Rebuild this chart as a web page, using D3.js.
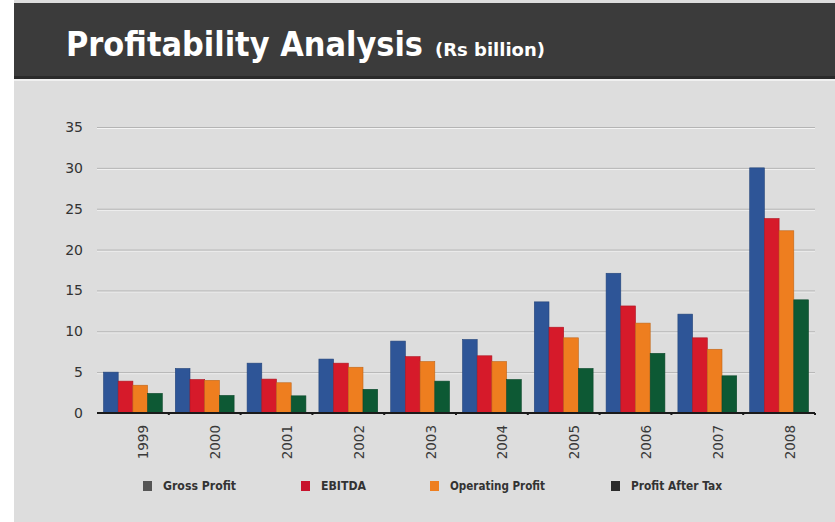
<!DOCTYPE html>
<html>
<head>
<meta charset="utf-8">
<script src="https://cdn.jsdelivr.net/npm/d3@7/dist/d3.min.js"></script>
<style>
  html, body { margin: 0; padding: 0; background: #ffffff; }
  svg { display: block; }
</style>
</head>
<body>
<svg id="chart" width="835" height="522"></svg>
<script>
// Fiscal years on the category axis
const years = ["1999", "2000", "2001", "2002", "2003", "2004", "2005", "2006", "2007", "2008"];

// Series names and values (Rs billion)
const seriesNames = ["Gross Profit", "EBITDA", "Operating Profit", "Profit After Tax"];
const grossProfit     = [5.0, 5.45, 6.1, 6.6, 8.8, 9.0, 13.6, 17.1, 12.1, 30.0];
const ebitda          = [3.9, 4.1, 4.15, 6.1, 6.9, 7.0, 10.5, 13.1, 9.2, 23.8];
const operatingProfit = [3.4, 4.0, 3.7, 5.6, 6.3, 6.3, 9.2, 11.0, 7.8, 22.3];
const profitAfterTax  = [2.4, 2.15, 2.1, 2.9, 3.9, 4.1, 5.45, 7.3, 4.55, 13.85];

const yTicks = [0, 5, 10, 15, 20, 25, 30, 35];

const seriesValues = [grossProfit, ebitda, operatingProfit, profitAfterTax];
const barColors = ["#2e5597", "#d61a2a", "#ee7e1f", "#0d5934"];
const legendColors = ["#555555", "#c8122c", "#ee7e1f", "#2a2a2a"];

const svg = d3.select("#chart");
const W = 835, H = 522;

// Page panels: light grey body and dark title band
svg.append("rect").attr("x", 14).attr("y", 0).attr("width", W - 14).attr("height", H).attr("fill", "#dddddd");
svg.append("rect").attr("x", 14).attr("y", 3).attr("width", W - 14).attr("height", 76).attr("fill", "#3b3b3b");
svg.append("rect").attr("x", 14).attr("y", 76).attr("width", W - 14).attr("height", 3).attr("fill", "#2a2a2a");
svg.append("rect").attr("x", 14).attr("y", 79).attr("width", W - 14).attr("height", 2).attr("fill", "#f0f0f0");

// Title and unit
const titleFont = "'Liberation Sans Narrow', 'DejaVu Sans Condensed', 'Liberation Sans', sans-serif";
svg.append("text")
  .attr("x", 66).attr("y", 56)
  .attr("fill", "#ffffff")
  .attr("font-family", titleFont)
  .attr("font-weight", "bold")
  .attr("font-size", 33.5)
  .attr("textLength", 357)
  .attr("lengthAdjust", "spacingAndGlyphs")
  .text("Profitability Analysis");
svg.append("text")
  .attr("x", 435).attr("y", 56)
  .attr("fill", "#ffffff")
  .attr("font-family", titleFont)
  .attr("font-weight", "bold")
  .attr("font-size", 18.5)
  .attr("textLength", 110)
  .attr("lengthAdjust", "spacingAndGlyphs")
  .text("(Rs billion)");

// Scales
const plotLeft = 97, plotRight = 815, plotTop = 127, plotBottom = 413;
const y = d3.scaleLinear().domain([0, 35]).range([plotBottom, plotTop]);
const x0 = d3.scaleBand().domain(years).range([plotLeft, plotRight]).padding(0);
const x1 = d3.scaleBand().domain(seriesNames).range([6.5, x0.bandwidth() - 6.5]).padding(0);

// Gridlines with a light highlight underneath
const grid = svg.append("g");
yTicks.filter(t => t > 0).forEach(t => {
  grid.append("line")
    .attr("x1", plotLeft).attr("x2", plotRight)
    .attr("y1", y(t) + 1.5).attr("y2", y(t) + 1.5)
    .attr("stroke", "#f4f4f4").attr("stroke-width", 1);
  grid.append("line")
    .attr("x1", plotLeft).attr("x2", plotRight)
    .attr("y1", y(t) + 0.5).attr("y2", y(t) + 0.5)
    .attr("stroke", "#b4b4b4").attr("stroke-width", 1);
});

// Y axis labels
const yAxis = d3.axisLeft(y).tickValues(yTicks).tickSize(0).tickPadding(0);
const yG = svg.append("g").attr("transform", "translate(83,0)").call(yAxis);
yG.select(".domain").remove();
yG.selectAll("text")
  .attr("font-family", "'DejaVu Sans', sans-serif")
  .attr("font-size", 14)
  .attr("fill", "#333333");

// Bars
const groups = svg.append("g").selectAll("g")
  .data(years)
  .join("g")
  .attr("transform", d => `translate(${x0(d)},0)`);

groups.selectAll("rect")
  .data((d, i) => seriesNames.map((s, j) => ({ s, j, v: seriesValues[j][i] })))
  .join("rect")
  .attr("x", d => x1(d.s))
  .attr("width", x1.bandwidth())
  .attr("y", d => y(d.v))
  .attr("height", d => y(0) - y(d.v))
  .attr("fill", d => barColors[d.j])
  .attr("stroke", d => d3.color(barColors[d.j]).darker(0.6))
  .attr("stroke-width", 0.6);

// Category axis with baseline and small boundary ticks
const xAxis = d3.axisBottom(x0).tickSize(0).tickPadding(0);
const xG = svg.append("g").attr("transform", `translate(0,${plotBottom})`).call(xAxis);
xG.select(".domain").attr("stroke", "#1a1a1a").attr("stroke-width", 2)
  .attr("d", `M${plotLeft},0H${plotRight}`);
xG.selectAll("text")
  .attr("font-family", "'DejaVu Sans', sans-serif")
  .attr("font-size", 13.5)
  .attr("fill", "#3a3a3a")
  .attr("text-anchor", "end")
  .attr("dominant-baseline", "central")
  .attr("transform", "translate(1,12) rotate(-90)")
  .attr("x", 0).attr("y", 0);
svg.append("g").selectAll("rect")
  .data(years.slice(1).concat(["end"]))
  .join("rect")
  .attr("x", (d, i) => plotLeft + x0.step() * (i + 1) - 1)
  .attr("y", plotBottom)
  .attr("width", 2).attr("height", 2)
  .attr("fill", "#1a1a1a");

// Legend
const legendX = [143, 301, 430, 611];
const legendW = [73, 45, 95, 91];
const legend = svg.append("g");
seriesNames.forEach((name, i) => {
  legend.append("rect")
    .attr("x", legendX[i]).attr("y", 481)
    .attr("width", 9).attr("height", 10)
    .attr("fill", legendColors[i]);
  legend.append("text")
    .attr("x", legendX[i] + 20).attr("y", 490)
    .attr("font-family", titleFont)
    .attr("font-weight", "bold")
    .attr("font-size", 13)
    .attr("fill", "#333333")
    .attr("textLength", legendW[i])
    .attr("lengthAdjust", "spacingAndGlyphs")
    .text(name);
});
</script>
</body>
</html>
